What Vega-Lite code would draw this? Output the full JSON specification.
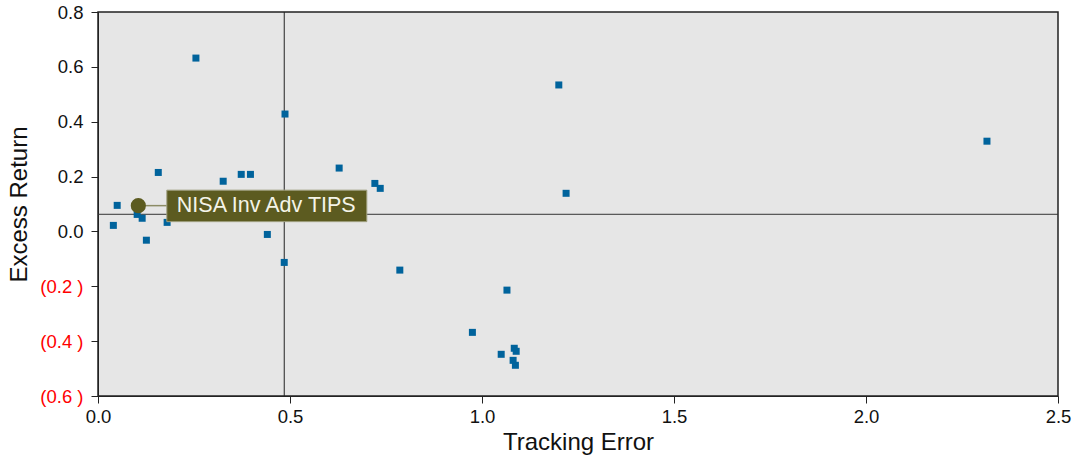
{
  "$schema": "https://vega.github.io/schema/vega-lite/v6.json",
  "width": 960,
  "height": 384,
  "autosize": "none",
  "padding": {"left": 98, "top": 12, "right": 17, "bottom": 64},
  "background": "white",
  "config": {
    "font": "Liberation Sans",
    "view": {"fill": "#e6e6e6", "stroke": "#222222", "strokeWidth": 1.5}
  },
  "datasets": {
    "funds": [
      {"te": 0.255, "er": 0.632},
      {"te": 0.487, "er": 0.428},
      {"te": 1.200, "er": 0.534},
      {"te": 2.315, "er": 0.329},
      {"te": 0.157, "er": 0.215},
      {"te": 0.326, "er": 0.183},
      {"te": 0.373, "er": 0.208},
      {"te": 0.397, "er": 0.208},
      {"te": 0.628, "er": 0.231},
      {"te": 0.721, "er": 0.175},
      {"te": 0.735, "er": 0.157},
      {"te": 1.219, "er": 0.139},
      {"te": 0.050, "er": 0.095},
      {"te": 0.040, "er": 0.022},
      {"te": 0.102, "er": 0.062},
      {"te": 0.115, "er": 0.048},
      {"te": 0.126, "er": -0.032},
      {"te": 0.180, "er": 0.033},
      {"te": 0.441, "er": -0.011},
      {"te": 0.485, "er": -0.113},
      {"te": 0.786, "er": -0.141},
      {"te": 1.065, "er": -0.214},
      {"te": 0.975, "er": -0.368},
      {"te": 1.050, "er": -0.448},
      {"te": 1.084, "er": -0.426},
      {"te": 1.089, "er": -0.437},
      {"te": 1.081, "er": -0.470},
      {"te": 1.087, "er": -0.488}
    ],
    "highlight": [
      {"te": 0.105, "er": 0.094, "name": "NISA Inv Adv TIPS"}
    ],
    "refs": [
      {"te": 0.485, "er": 0.0625}
    ]
  },
  "layer": [
    {
      "data": {"name": "refs"},
      "mark": {"type": "rule", "color": "#222222", "strokeWidth": 1},
      "encoding": {
        "x": {"field": "te", "type": "quantitative", "scale": {"domain": [0, 2.5]}}
      }
    },
    {
      "data": {"name": "refs"},
      "mark": {"type": "rule", "color": "#333333", "strokeWidth": 1},
      "encoding": {
        "y": {"field": "er", "type": "quantitative", "scale": {"domain": [-0.6, 0.8]}}
      }
    },
    {
      "data": {"name": "funds"},
      "mark": {"type": "square", "size": 49, "color": "#00639c", "opacity": 1, "filled": true},
      "encoding": {
        "x": {
          "field": "te", "type": "quantitative",
          "scale": {"domain": [0, 2.5], "nice": false, "zero": false},
          "axis": {
            "title": "Tracking Error",
            "values": [0, 0.5, 1, 1.5, 2, 2.5],
            "format": ".1f",
            "grid": false,
            "domain": true,
            "domainColor": "#222222",
            "tickColor": "#222222",
            "tickSize": 7,
            "labelFontSize": 18.5,
            "labelColor": "#111111",
            "labelPadding": 4,
            "labelFlush": false,
            "titleFontSize": 24,
            "titleFontWeight": "normal",
            "titleColor": "#111111",
            "titlePadding": 5
          }
        },
        "y": {
          "field": "er", "type": "quantitative",
          "scale": {"domain": [-0.6, 0.8], "nice": false, "zero": false},
          "axis": {
            "title": "Excess Return",
            "values": [-0.6, -0.4, -0.2, 0, 0.2, 0.4, 0.6, 0.8],
            "labelExpr": "datum.value < 0 ? '(' + format(-datum.value, '.1f') + ' )' : format(datum.value, '.1f')",
            "labelColor": {"condition": {"test": "datum.value < 0", "value": "#ff0000"}, "value": "#111111"},
            "grid": false,
            "domain": true,
            "domainColor": "#222222",
            "tickColor": "#222222",
            "tickSize": 7,
            "labelFontSize": 18.5,
            "labelPadding": 8,
            "labelFlush": false,
            "titleFontSize": 24,
            "titleFontWeight": "normal",
            "titleColor": "#111111",
            "titlePadding": 8
          }
        }
      }
    },
    {
      "data": {"name": "highlight"},
      "mark": {"type": "point", "shape": "M0,0H0.57", "size": 10000, "stroke": "#8c8c66", "strokeWidth": 1.5, "filled": false, "opacity": 1},
      "encoding": {
        "x": {"field": "te", "type": "quantitative"},
        "y": {"field": "er", "type": "quantitative"}
      }
    },
    {
      "data": {"name": "highlight"},
      "mark": {"type": "point", "shape": "M0.57,-0.31H4.57V0.32H0.57Z", "size": 10000, "fill": "#5c5b20", "stroke": "#a0a080", "strokeWidth": 1, "filled": true, "opacity": 1, "strokeOpacity": 1},
      "encoding": {
        "x": {"field": "te", "type": "quantitative"},
        "y": {"field": "er", "type": "quantitative"}
      }
    },
    {
      "data": {"name": "highlight"},
      "mark": {"type": "circle", "size": 230, "color": "#5c5b20", "opacity": 1},
      "encoding": {
        "x": {"field": "te", "type": "quantitative"},
        "y": {"field": "er", "type": "quantitative"}
      }
    },
    {
      "data": {"name": "highlight"},
      "mark": {"type": "text", "align": "left", "baseline": "middle", "dx": 38.5, "dy": 0, "fontSize": 21.5, "color": "#f4f4e8"},
      "encoding": {
        "x": {"field": "te", "type": "quantitative"},
        "y": {"field": "er", "type": "quantitative"},
        "text": {"field": "name"}
      }
    }
  ]
}
